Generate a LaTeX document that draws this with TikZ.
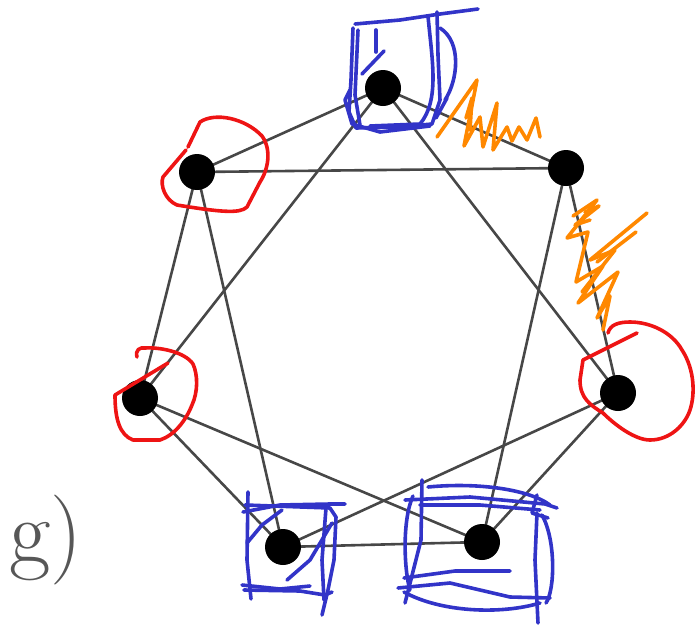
\documentclass[tikz,border=0pt]{standalone}
\begin{document}
\begin{tikzpicture}[x=1pt,y=-1pt,
  vertex/.style={circle,fill=black,inner sep=0pt,minimum size=36pt},
  edge/.style={draw=black!72,line width=2.6pt},
  pen/.style={line width=3.6pt,line cap=round,line join=round},
  bluepen/.style={pen,draw=penblue},
  redpen/.style={pen,draw=penred},
  orangepen/.style={pen,draw=penorange}]
\definecolor{penblue}{RGB}{50,52,200}
\definecolor{penred}{RGB}{238,20,20}
\definecolor{penorange}{RGB}{255,136,0}
\useasboundingbox (0,0) rectangle (697,625);

% vertices of the seven-cycle
\coordinate (pa) at (383,88);
\coordinate (pb) at (566,168);
\coordinate (pc) at (618,393);
\coordinate (pd) at (482,542);
\coordinate (pe) at (283,547);
\coordinate (pf) at (140,398);
\coordinate (pg) at (197,172);

% edges: every vertex joined to its two nearest neighbours on each side
\foreach \u/\v in {pa/pb,pb/pc,pc/pd,pd/pe,pe/pf,pf/pg,pg/pa,
                   pa/pc,pb/pd,pc/pe,pd/pf,pe/pg,pf/pa,pg/pb}
  \draw[edge] (\u) -- (\v);

\node[vertex] (a) at (pa) {};
\node[vertex] (b) at (pb) {};
\node[vertex] (c) at (pc) {};
\node[vertex] (d) at (pd) {};
\node[vertex] (e) at (pe) {};
\node[vertex] (f) at (pf) {};
\node[vertex] (g) at (pg) {};

% caption letter
\node[text=black!66,font=\fontsize{90}{90}\selectfont,anchor=base west,inner sep=0pt] (lbl) at (9,562) {g)};

% blue box scribbles
\draw[bluepen] (353,28) -- (351,80) -- (349,112) -- (356,128) -- (400,127) -- (432,124) -- (440,100) -- (438,55) -- (437,12);
\draw[bluepen] (355,24) -- (400,20) -- (440,14) -- (478,9);
\draw[bluepen] (358,30) -- (355,95) -- (360,125);
\draw[bluepen] (376,30) -- (376,52);
\draw[bluepen] (384,51) -- (362,74);
\draw[bluepen] (428,16) .. controls (432,60) and (440,100) .. (420,124) -- (370,126);
\draw[bluepen] (440,28) .. controls (462,42) and (458,80) .. (445,100);
\draw[bluepen] (350,90) -- (345,100) -- (352,124) -- (380,132) -- (430,126);
\draw[bluepen] (447,98) -- (436,118);

\draw[bluepen] (248,492) -- (247,560) -- (251,599);
\draw[bluepen] (243,512) -- (280,505) -- (330,504) -- (345,504);
\draw[bluepen] (245,505) -- (330,508) -- (336,517) -- (334,560) -- (328,590) -- (322,615);
\draw[bluepen] (244,590) -- (300,591) -- (325,595) -- (332,592);
\draw[bluepen] (242,585) -- (280,589) -- (310,586);
\draw[bluepen] (247,543) -- (262,525) -- (282,510);
\draw[bluepen] (287,580) -- (310,560) -- (332,523);
\draw[bluepen] (326,508) -- (322,560) -- (324,600);

\draw[bluepen] (422,480) -- (421,540) -- (405,603);
\draw[bluepen] (413,496) .. controls (402,520) and (404,570) .. (410,590);
\draw[bluepen] (405,500) -- (470,497) -- (545,504) -- (557,508);
\draw[bluepen] (420,505) -- (480,505) -- (540,510);
\draw[bluepen] (428,487) .. controls (480,482) and (530,490) .. (550,505);
\draw[bluepen] (537,495) -- (532,513) -- (548,518);
\draw[bluepen] (537,513) -- (535,560) -- (538,623);
\draw[bluepen] (542,515) .. controls (556,540) and (555,590) .. (546,603);
\draw[bluepen] (404,578) -- (455,571) -- (510,571);
\draw[bluepen] (398,588) -- (450,583) -- (510,597) -- (550,598);
\draw[bluepen] (404,592) .. controls (440,612) and (500,615) .. (540,603);

% red rings
\draw[redpen] (188,147) -- (200,122) .. controls (215,112) and (245,118) .. (262,136)
  .. controls (272,150) and (268,170) .. (260,182) -- (247,207) .. controls (240,214) and (220,212) .. (177,205)
  .. controls (165,200) and (160,185) .. (163,177) -- (186,150);
\draw[redpen] (137,357) .. controls (135,350) and (140,347) .. (145,348)
  .. controls (160,347) and (185,352) .. (193,364) .. controls (198,375) and (198,392) .. (192,405)
  .. controls (186,420) and (175,435) .. (160,440) -- (133,440) .. controls (120,435) and (115,420) .. (115,395)
  -- (168,363);
\draw[redpen] (608,333) .. controls (610,325) and (618,322) .. (630,322)
  .. controls (650,322) and (672,332) .. (682,350) .. controls (695,370) and (695,395) .. (690,410)
  .. controls (685,425) and (670,440) .. (650,440) .. controls (635,440) and (615,425) .. (603,413)
  .. controls (590,405) and (580,398) .. (580,380) -- (583,360) -- (637,333);

% orange hatching along two edges
\draw[orangepen] (437,137) -- (477,80) -- (464,146) -- (480,117) -- (483,147) -- (497,103)
  -- (493,150) -- (507,127) -- (512,141) -- (519,127) -- (527,140) -- (536,118) -- (540,137);
\draw[orangepen] (466,118) -- (472,98) -- (470,130);
\draw[orangepen] (573,216) -- (597,200) -- (567,238) -- (588,232) -- (576,282) -- (603,266)
  -- (578,303) -- (618,272) -- (597,318) -- (610,296) -- (603,330);
\draw[orangepen] (585,212) -- (599,206) -- (575,225) -- (590,220);
\draw[orangepen] (647,213) -- (590,260) -- (615,250) -- (582,292);
\draw[orangepen] (636,232) -- (597,262);
\end{tikzpicture}
\end{document}
